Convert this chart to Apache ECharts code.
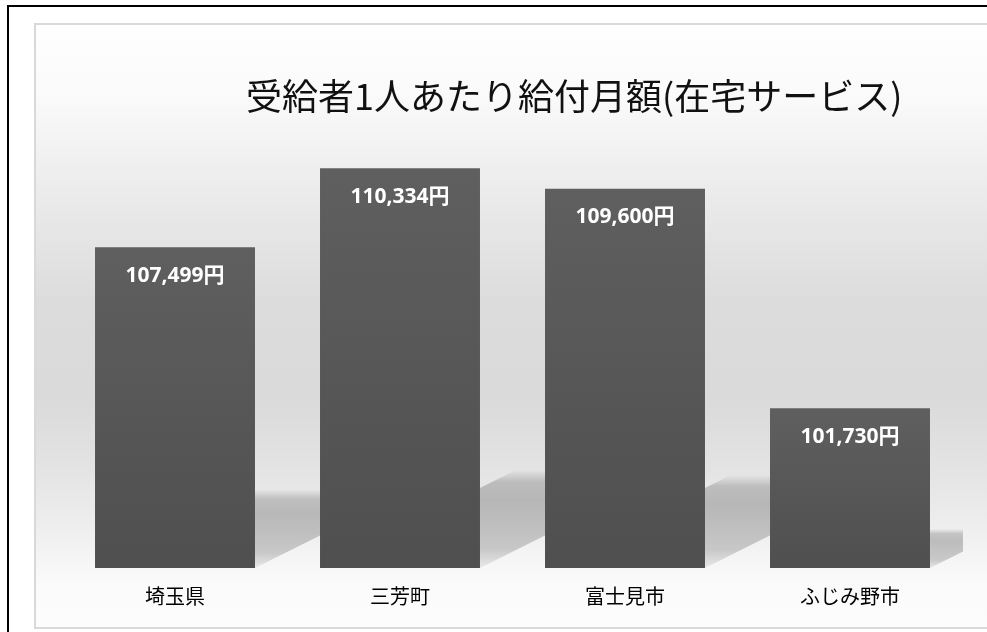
<!DOCTYPE html>
<html>
<head>
<meta charset="utf-8">
<script src="https://cdn.jsdelivr.net/npm/echarts@6/dist/echarts.min.js"></script>
<style>
html,body{margin:0;padding:0;background:#fff;}
#c{width:987px;height:632px;}
</style>
</head>
<body>
<div id="c"></div>
<script>
const titleText = '受給者1人あたり給付月額(在宅サービス)';
const categories = ['埼玉県', '三芳町', '富士見市', 'ふじみ野市'];
const values = [107499, 110334, 109600, 101730];
const yMin = 96000;
const yMax = 112000;

const chart = echarts.init(document.getElementById('c'), null, {renderer: 'canvas'});

function fmt(v) {
  return v.toLocaleString('en-US') + '円';
}

const option = {
  animation: false,
  backgroundColor: '#ffffff',
  graphic: [
    {
      type: 'rect', z: -10, silent: true,
      shape: {x: 8, y: 6, width: 1100, height: 700},
      style: {fill: '#ffffff', stroke: '#000000', lineWidth: 2}
    },
    {
      type: 'rect', z: -9, silent: true,
      shape: {x: 35, y: 24, width: 1000, height: 604},
      style: {
        fill: new echarts.graphic.LinearGradient(0, 0, 0, 1, [
          {offset: 0, color: '#ffffff'},
          {offset: 0.12, color: '#fafafa'},
          {offset: 0.27, color: '#ececec'},
          {offset: 0.46, color: '#dcdcdc'},
          {offset: 0.62, color: '#dadada'},
          {offset: 0.74, color: '#e4e4e4'},
          {offset: 0.84, color: '#efefef'},
          {offset: 0.92, color: '#fafafa'},
          {offset: 1, color: '#fdfdfd'}
        ]),
        stroke: '#d9d9d9', lineWidth: 2
      }
    },
    {
      type: 'text', z: 10, silent: true,
      left: 246, top: 78,
      style: {
        text: titleText,
        fill: '#111111',
        font: 'normal 36px "Noto Sans CJK JP", sans-serif'
      }
    }
  ],
  grid: {left: 62.5, right: 24.5, top: 121.7, bottom: 64, containLabel: false},
  xAxis: {
    type: 'category',
    data: categories,
    axisLine: {show: false},
    axisTick: {show: false},
    axisLabel: {
      color: '#000000',
      fontSize: 20,
      fontFamily: '"Noto Sans CJK JP", sans-serif',
      margin: 18
    },
    splitLine: {show: false}
  },
  yAxis: {
    type: 'value',
    min: yMin,
    max: yMax,
    show: false,
    splitLine: {show: false}
  },
  series: [
    {
      type: 'custom',
      z: 1,
      clip: true,
      silent: true,
      data: values.map((v, i) => [i, v]),
      renderItem: function (params, api) {
        const i = api.value(0);
        const v = api.value(1);
        const top = api.coord([i, v]);
        const bot = api.coord([i, yMin]);
        const w = api.size([1, 0])[0] * 0.711;
        const x0 = bot[0] - w / 2;
        const x1 = bot[0] + w / 2;
        const yb = bot[1];
        const h = yb - top[1];
        const s = h * 0.245;
        const dx = s / 0.5;
        return {
          type: 'polygon',
          shape: {points: [[x0, yb], [x1, yb], [x1 + dx, yb - s], [x0 + dx, yb - s]]},
          style: {
            fill: new echarts.graphic.LinearGradient(0, 0, 0, 1, [
              {offset: 0, color: 'rgba(0,0,0,0)'},
              {offset: 0.12, color: 'rgba(0,0,0,0.18)'},
              {offset: 0.3, color: 'rgba(0,0,0,0.22)'},
              {offset: 0.8, color: 'rgba(0,0,0,0.18)'},
              {offset: 1, color: 'rgba(0,0,0,0.06)'}
            ])
          }
        };
      }
    },
    {
      type: 'bar',
      z: 2,
      data: values,
      barWidth: '71.1%',
      itemStyle: {
        color: new echarts.graphic.LinearGradient(0, 0, 0, 1, [
          {offset: 0, color: '#5f5f5f'},
          {offset: 1, color: '#4f4f4f'}
        ])
      },
      label: {
        show: true,
        position: 'insideTop',
        distance: 18,
        color: '#ffffff',
        fontSize: 21,
        fontWeight: 'bold',
        fontFamily: '"Open Sans", "Noto Sans CJK JP", sans-serif',
        formatter: function (p) { return fmt(p.value); }
      }
    }
  ]
};

chart.setOption(option);
</script>
</body>
</html>
